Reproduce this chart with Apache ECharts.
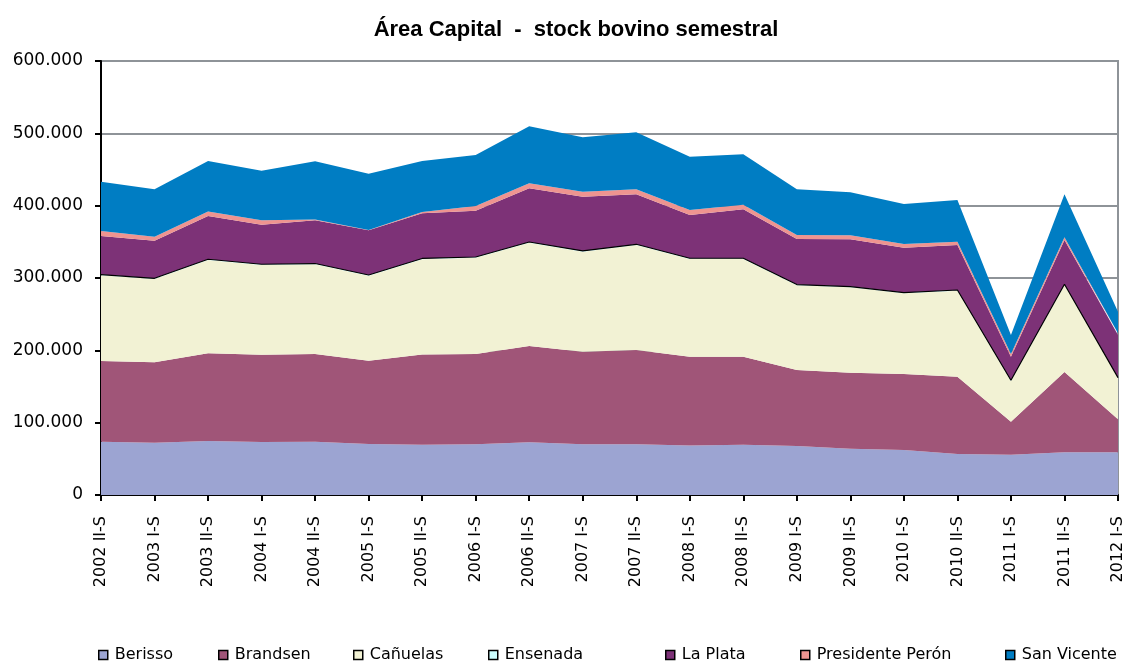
<!DOCTYPE html>
<html lang="es">
<head>
<meta charset="utf-8" />
<title>Área Capital - stock bovino semestral</title>
<script type="text/javascript" src="https://cdn.jsdelivr.net/npm/echarts@6/dist/echarts.min.js"></script>
<style>
    html, body { margin: 0; padding: 0; background: #fff; }
    #main { width: 1128px; height: 664px; }
</style>
</head>
<body>
<div id="main"></div>
<script type="text/javascript">
    // semestres
    var periodos = ['2002 II-S', '2003 I-S', '2003 II-S', '2004 I-S', '2004 II-S', '2005 I-S',
        '2005 II-S', '2006 I-S', '2006 II-S', '2007 I-S', '2007 II-S', '2008 I-S', '2008 II-S',
        '2009 I-S', '2009 II-S', '2010 I-S', '2010 II-S', '2011 I-S', '2011 II-S', '2012 I-S'];

    // cabezas por partido
    var berisso   = [73700, 72300, 74700, 73300, 73700, 70500, 69500, 70000, 72800, 70000, 70000, 68600, 69500, 67700, 64000, 62200, 56700, 55700, 59000, 59000];
    var brandsen  = [111500, 111200, 121200, 120700, 121300, 115200, 124800, 125000, 133200, 128000, 130500, 122600, 121700, 105100, 105000, 105100, 106900, 45600, 111000, 45600];
    var canuelas  = [118500, 115100, 129000, 124000, 124000, 117500, 131700, 133000, 142800, 138400, 145100, 135100, 135100, 117100, 118100, 111500, 118800, 56300, 120300, 56700];
    var ensenada  = [1000, 1000, 1000, 1000, 1000, 1000, 1000, 1000, 1000, 1000, 1000, 1000, 1000, 1000, 1000, 1000, 1000, 1000, 1000, 1000];
    var laPlata   = [53300, 52000, 59800, 54700, 59800, 61800, 62600, 64000, 74200, 75000, 69100, 59700, 67700, 63100, 65400, 62100, 62200, 32600, 61200, 58900];
    var presPeron = [7000, 5400, 6300, 6300, 1000, 500, 1500, 6500, 6900, 6900, 6900, 7000, 6400, 5500, 5500, 5100, 4600, 3800, 3800, 2300];
    var sanVicente = [68000, 65600, 69700, 68400, 80500, 77700, 70600, 70500, 78800, 75200, 78800, 73700, 69600, 63100, 59500, 55300, 57600, 26200, 59400, 29900];

    var nombres = ['Berisso', 'Brandsen', 'Cañuelas', 'Ensenada', 'La Plata', 'Presidente Perón', 'San Vicente'];
    var datos = [berisso, brandsen, canuelas, ensenada, laPlata, presPeron, sanVicente];
    var colores = ['#9ca4d2', '#a05578', '#f2f2d4', '#ccffff', '#7d3277', '#ee9490', '#007dc3'];
    var legendLeft = [98, 218, 353, 488, 665, 800, 1005];

    var series = [];
    var legends = [];
    for (var i = 0; i < nombres.length; i++) {
        series.push({
            name: nombres[i],
            type: 'line',
            stack: 'total',
            data: datos[i],
            symbol: 'none',
            color: colores[i],
            lineStyle: nombres[i] == 'Ensenada' ? { color: '#000', width: 1.2 } : { width: 0 },
            areaStyle: { color: colores[i], opacity: 1 }
        });
        legends.push({
            data: [nombres[i]],
            left: legendLeft[i],
            top: 647,
            icon: 'rect',
            itemWidth: 9,
            itemHeight: 9,
            itemGap: 0,
            padding: 0,
            itemStyle: { borderColor: '#000', borderWidth: 1.5 },
            textStyle: { fontFamily: 'DejaVu Sans', fontSize: 16, color: '#000', padding: [0, 0, 0, 2] }
        });
    }

    var myChart = echarts.init(document.getElementById('main'));
    myChart.setOption({
        animation: false,
        backgroundColor: '#fff',
        title: {
            text: 'Área Capital  -  stock bovino semestral',
            left: 571,
            textAlign: 'center',
            top: 14,
            textStyle: { fontFamily: 'Liberation Sans', fontSize: 22, fontWeight: 'bold', color: '#000' }
        },
        legend: legends,
        grid: {
            left: 101, right: 10, top: 61, bottom: 169,
            show: true, borderColor: '#8e9398', borderWidth: 2
        },
        xAxis: {
            type: 'category',
            boundaryGap: false,
            data: periodos,
            axisLine: { lineStyle: { color: '#000', width: 2 } },
            axisTick: { show: true, length: 6, inside: false, lineStyle: { color: '#000', width: 2 } },
            axisLabel: { rotate: 90, margin: 21, interval: 0, fontFamily: 'DejaVu Sans', fontSize: 16, color: '#000' },
            splitLine: { show: false }
        },
        yAxis: {
            type: 'value',
            min: 0,
            max: 600000,
            interval: 100000,
            axisLine: { show: true, lineStyle: { color: '#000', width: 2 } },
            axisTick: { show: true, length: 6, lineStyle: { color: '#000', width: 2 } },
            axisLabel: {
                margin: 18,
                fontFamily: 'DejaVu Sans', fontSize: 17, color: '#000',
                formatter: function (v) { return v == 0 ? '0' : (v / 1000) + '.000'; }
            },
            splitLine: { show: true, lineStyle: { color: '#8e9398', width: 2 } }
        },
        series: series
    });
</script>
</body>
</html>
